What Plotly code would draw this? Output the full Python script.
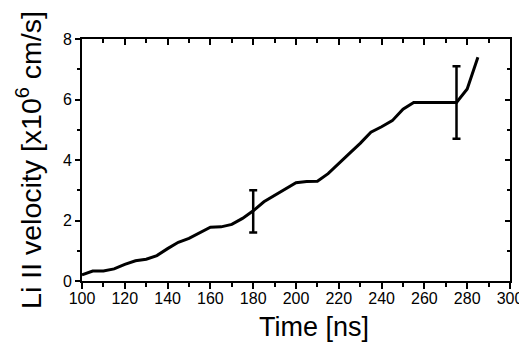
import plotly.graph_objects as go

time_ns = [100, 105, 110, 115, 120, 125, 130, 135, 140, 145, 150, 155, 160, 165,
           170, 175, 180, 185, 190, 195, 200, 205, 210, 215, 220, 225, 230, 235,
           240, 245, 250, 255, 260, 265, 270, 275, 280, 285]
velocity = [0.2, 0.33, 0.33, 0.4, 0.55, 0.67, 0.72, 0.84, 1.07, 1.28, 1.41, 1.6,
            1.78, 1.79, 1.87, 2.07, 2.32, 2.62, 2.83, 3.04, 3.25, 3.29, 3.3, 3.55,
            3.9, 4.22, 4.55, 4.92, 5.1, 5.3, 5.68, 5.9, 5.9, 5.9, 5.9, 5.9, 6.35, 7.4]

err_time = [180, 275]
err_center = [2.32, 5.9]
err_plus = [0.68, 1.2]
err_minus = [0.72, 1.2]

x_ticks = [100, 120, 140, 160, 180, 200, 220, 240, 260, 280, 300]
y_ticks = [0, 2, 4, 6, 8]

x_title = "Time [ns]"
y_title = "Li II velocity [x10<sup>6</sup> cm/s]"

FONT = "Liberation Sans, Arial, Helvetica, sans-serif"

fig = go.Figure()
fig.add_trace(go.Scatter(x=time_ns, y=velocity, mode="lines",
                         line=dict(color="black", width=3), showlegend=False))
fig.add_trace(go.Scatter(x=err_time, y=err_center, mode="markers",
                         marker=dict(size=1, color="black"),
                         error_y=dict(type="data", symmetric=False, array=err_plus,
                                      arrayminus=err_minus, color="black",
                                      thickness=2.5, width=4),
                         showlegend=False))
fig.add_trace(go.Scatter(x=[None], y=[None], xaxis="x2", yaxis="y2", showlegend=False))

common = dict(showgrid=False, zeroline=False, showline=True, linecolor="black",
              linewidth=2, tickcolor="black", tickwidth=2)

fig.update_layout(
    width=527, height=345,
    margin=dict(l=74, r=20, t=31, b=72),
    paper_bgcolor="white", plot_bgcolor="white",
    font=dict(family=FONT, color="black"),
    xaxis=dict(range=[100, 300], tickvals=x_ticks, ticks="outside", ticklen=6,
               tickfont=dict(size=16), ticklabelstandoff=-4,
               minor=dict(dtick=10, ticks="outside", ticklen=4, tickwidth=2, tickcolor="black"),
               **common),
    yaxis=dict(range=[0, 8], tickvals=y_ticks, ticks="outside", ticklen=5,
               tickfont=dict(size=16),
               minor=dict(dtick=1, ticks="outside", ticklen=3, tickwidth=2, tickcolor="black"),
               title=dict(text=y_title, font=dict(size=28.5), standoff=13),
               **common),
    xaxis2=dict(range=[100, 300], overlaying="x", side="top", anchor="y",
                tickvals=x_ticks, ticks="inside", ticklen=6, showticklabels=False,
                minor=dict(dtick=10, ticks="inside", ticklen=4, tickwidth=2, tickcolor="black"),
                **common),
    yaxis2=dict(range=[0, 8], overlaying="y", side="right", anchor="x",
                tickvals=y_ticks, ticks="inside", ticklen=5, showticklabels=False,
                minor=dict(dtick=1, ticks="inside", ticklen=3, tickwidth=2, tickcolor="black"),
                **common),
    annotations=[dict(text=x_title, xref="paper", yref="paper", x=0.543, y=-0.118,
                      xanchor="center", yanchor="top", showarrow=False,
                      font=dict(size=27))],
)

fig.write_html("out.html")
